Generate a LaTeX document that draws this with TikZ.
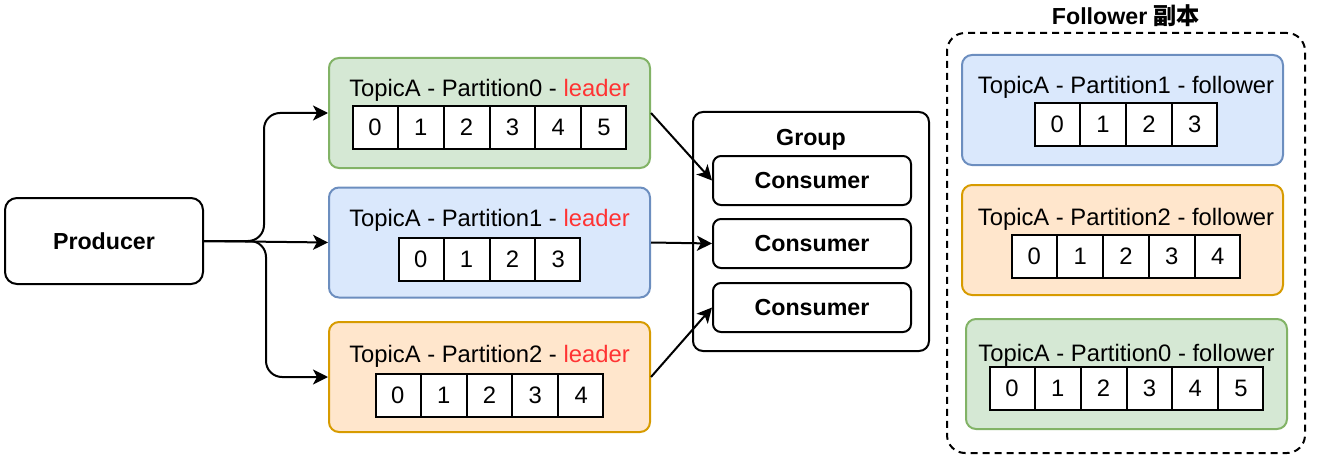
\documentclass[tikz,border=0pt]{standalone}
\usepackage{fontspec}
\setmainfont{Liberation Sans}
\newfontfamily\cjkfont{Noto Sans CJK SC}
\usepackage{xcolor}
\usetikzlibrary{arrows.meta,positioning,shapes.multipart}
\definecolor{grnfill}{HTML}{D5E8D4}
\definecolor{grndraw}{HTML}{82B366}
\definecolor{blufill}{HTML}{DAE8FC}
\definecolor{bludraw}{HTML}{6C8EBF}
\definecolor{orgfill}{HTML}{FFE6CC}
\definecolor{orgdraw}{HTML}{D79B00}
\definecolor{leadred}{HTML}{FF3333}
\tikzset{
  kbox/.style={
    rectangle, rounded corners=6pt, draw=black, line width=1pt, fill=white,
    font=\fontsize{11.6}{13}\selectfont\bfseries
  },
  partbox/.style={rectangle, rounded corners=5pt, line width=1pt, minimum width=160.5pt, minimum height=55pt},
  greenpart/.style={partbox, draw=grndraw, fill=grnfill},
  bluepart/.style={partbox, draw=bludraw, fill=blufill},
  orangepart/.style={partbox, draw=orgdraw, fill=orgfill},
  ptitle/.style={inner sep=0pt, font=\fontsize{11.9}{14}\selectfont},
  cellrow/.style={
    rectangle split, rectangle split horizontal, draw=black, line width=1pt, fill=white,
    inner xsep=7.65pt, inner ysep=6.6pt, font=\fontsize{11.9}{14}\selectfont
  },
  folbox/.style={rectangle, rounded corners=9pt, draw=black, line width=1pt, dash pattern=on 3.5pt off 2.5pt,
    minimum width=179pt, minimum height=210pt},
  karrow/.style={-{Stealth[length=7.5pt,width=7.5pt,inset=2pt]}, line width=1pt, draw=black},
}

\begin{document}
\begin{tikzpicture}[x=0.5pt, y=-0.5pt]
  \useasboundingbox (0,0) rectangle (1322,476);
  \node (prod) [kbox, minimum width=99pt, minimum height=43pt] at (104,241) {Producer};

  % leader partitions
  \node (l0) [greenpart] at (489.5,113) {};
  \node (l0t) [ptitle, below=11pt of l0.north] {TopicA - Partition0 - \textcolor{leadred}{leader}};
  \node (l0r) [cellrow, rectangle split parts=6, below=24pt of l0.north] {0\nodepart{two}1\nodepart{three}2\nodepart{four}3\nodepart{five}4\nodepart{six}5};
  \node (l1) [bluepart] at (489.5,242.5) {};
  \node (l1t) [ptitle, below=11pt of l1.north] {TopicA - Partition1 - \textcolor{leadred}{leader}};
  \node (l1r) [cellrow, rectangle split parts=4, below=25pt of l1.north] {0\nodepart{two}1\nodepart{three}2\nodepart{four}3};
  \node (l2) [orangepart] at (489.5,377) {};
  \node (l2t) [ptitle, below=12pt of l2.north] {TopicA - Partition2 - \textcolor{leadred}{leader}};
  \node (l2r) [cellrow, rectangle split parts=5, below=26pt of l2.north] {0\nodepart{two}1\nodepart{three}2\nodepart{four}3\nodepart{five}4};

  % consumer group
  \node (grp) [kbox, rounded corners=5pt, minimum width=118pt, minimum height=119.5pt] at (811,231.5) {};
  \node (grpt) [inner sep=0pt, font=\fontsize{11.6}{13}\selectfont\bfseries, below=9pt of grp.north] {Group};
  \node (c1) [kbox, rounded corners=4pt, minimum width=99pt, minimum height=24.5pt] at (812,180.5) {Consumer};
  \node (c2) [kbox, rounded corners=4pt, minimum width=99pt, minimum height=24.5pt] at (812,243.5) {Consumer};
  \node (c3) [kbox, rounded corners=4pt, minimum width=99pt, minimum height=24.5pt] at (812,307.5) {Consumer};

  % follower replicas
  \node (fol) [folbox] at (1126,243) {};
  \node (folt) [inner sep=0pt, font=\fontsize{11.6}{14}\selectfont\bfseries, above=2.5pt of fol.north] {Follower {\cjkfont 副本}};
  \node (f1) [bluepart] at (1122.5,110) {};
  \node (f1t) [ptitle, below=11pt of f1.north, xshift=1.75pt] {TopicA - Partition1 - follower};
  \node (f1r) [cellrow, rectangle split parts=4, below=24pt of f1.north, xshift=1.75pt] {0\nodepart{two}1\nodepart{three}2\nodepart{four}3};
  \node (f2) [orangepart] at (1122.5,240) {};
  \node (f2t) [ptitle, below=12pt of f2.north, xshift=1.75pt] {TopicA - Partition2 - follower};
  \node (f2r) [cellrow, rectangle split parts=5, below=25pt of f2.north, xshift=1.75pt] {0\nodepart{two}1\nodepart{three}2\nodepart{four}3\nodepart{five}4};
  \node (f0) [greenpart] at (1126.5,374) {};
  \node (f0t) [ptitle, below=13pt of f0.north] {TopicA - Partition0 - follower};
  \node (f0r) [cellrow, rectangle split parts=6, below=24pt of f0.north] {0\nodepart{two}1\nodepart{three}2\nodepart{four}3\nodepart{five}4\nodepart{six}5};

  \draw[karrow, rounded corners=8pt] (prod.east) -- ++(30pt,0) |- (l0.west);
  \draw[karrow] (prod.east) -- (l1.west);
  \draw[karrow, rounded corners=8pt] (prod.east) -- ++(31pt,0) |- (l2.west);
  \draw[karrow] (l0.east) -- (c1.west); \draw[karrow] (l1.east) -- (c2.west); \draw[karrow] (l2.east) -- (c3.west);
\end{tikzpicture}
\end{document}
